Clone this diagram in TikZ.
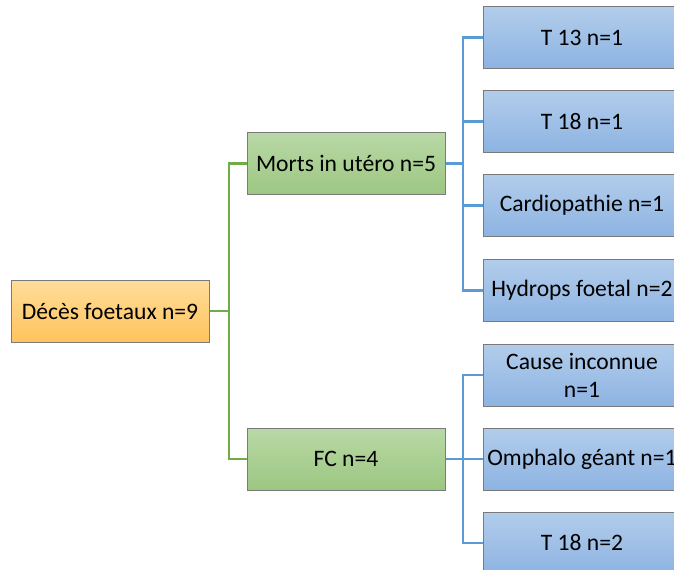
\documentclass[tikz,border=0pt]{standalone}
\usepackage{fontspec}
\setmainfont{Carlito}
\definecolor{rootTop}{HTML}{FFDD9A}
\definecolor{rootBot}{HTML}{FFC35C}
\definecolor{midTop}{HTML}{B9D8A6}
\definecolor{midBot}{HTML}{9CC782}
\definecolor{leafTop}{HTML}{B2CDEB}
\definecolor{leafBot}{HTML}{8DB3E2}
\definecolor{edgeGray}{HTML}{7A7A7A}
\definecolor{greenLink}{HTML}{70AD47}
\definecolor{blueLink}{HTML}{5B9BD5}
\begin{document}
\begin{tikzpicture}[x=0.5pt, y=-0.5pt,
    every node/.style={font=\fontsize{11.8}{14}\selectfont},
    box/.style={draw=edgeGray, line width=0.5pt, minimum width=99pt, minimum height=31pt, inner sep=1pt, align=center},
    rootbox/.style={box, top color=rootTop, bottom color=rootBot},
    midbox/.style={box, top color=midTop, bottom color=midBot},
    leafbox/.style={box, top color=leafTop, bottom color=leafBot},
    greenlink/.style={draw=greenLink, line width=1.1pt},
    bluelink/.style={draw=blueLink, line width=1.1pt}]

        \useasboundingbox (0,0) rectangle (674,569);

        % levels
        \node[rootbox] (root) at (110, 311) {Décès foetaux n=9};
        \node[midbox] (morts) at (346, 163.5) {Morts in utéro n=5};
        \node[midbox] (fc) at (346, 459) {FC n=4};

        % leaves of the first branch
        \node[leafbox] (t13) at (582, 37.5) {T 13 n=1};
        \node[leafbox] (t18a) at (582, 121.5) {T 18 n=1};
        \node[leafbox] (cardio) at (582, 205.5) {Cardiopathie n=1};
        \node[leafbox] (hydrops) at (582, 290.5) {Hydrops foetal n=2};

        % leaves of the second branch
        \node[leafbox] (cause) at (582, 375) {Cause inconnue\\n=1};
        \node[leafbox] (omphalo) at (582, 459) {Omphalo géant n=1};
        \node[leafbox] (t18b) at (582, 543) {T 18 n=2};

        \coordinate (rootFork) at (229, 0);
        \coordinate (leafFork) at (463, 0);

        % connectors
        \draw[greenlink] (root.east) -- (root.east -| rootFork);
        \draw[greenlink] (morts.west) -| (rootFork |- root) |- (fc.west);

        \draw[bluelink] (morts.east) -- (morts.east -| leafFork);
        \foreach \leaf in {t13, t18a, cardio, hydrops}
            \draw[bluelink] (morts.east -| leafFork) |- (\leaf.west);

        \draw[bluelink] (fc.east) -- (fc.east -| leafFork);
        \foreach \leaf in {cause, omphalo, t18b}
            \draw[bluelink] (fc.east -| leafFork) |- (\leaf.west);

\end{tikzpicture}
\end{document}
